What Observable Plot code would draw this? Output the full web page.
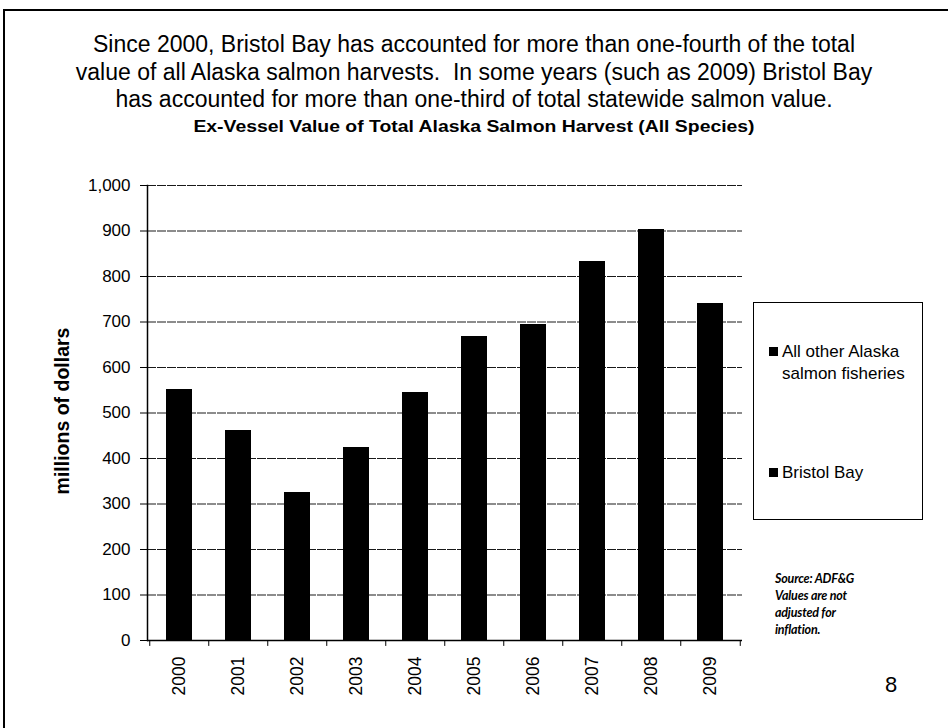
<!DOCTYPE html>
<html><head><meta charset="utf-8">
<script src="https://cdn.jsdelivr.net/npm/d3@7"></script>
<script src="https://cdn.jsdelivr.net/npm/@observablehq/plot@0.6"></script>
<style>
body{margin:0;background:#fff;font-family:"Liberation Sans",Arial,sans-serif;color:#000;}
#page{position:relative;width:948px;height:728px;overflow:hidden;background:#fff;}
#btop{position:absolute;left:3px;top:9px;width:945px;height:2px;background:#000;}
#bleft{position:absolute;left:3px;top:9px;width:2px;height:719px;background:#000;}
#title{position:absolute;left:0;width:948px;top:31px;text-align:center;font-size:23px;line-height:27.5px;}
#subtitle{position:absolute;left:0;width:948px;top:117px;text-align:center;font-size:17px;font-weight:bold;transform:scaleX(1.14);transform-origin:474px 0;}
#ylabel{position:absolute;left:62px;top:411px;transform:translate(-50%,-50%) rotate(-90deg);font-size:19.5px;font-weight:bold;white-space:nowrap;}
#chart{position:absolute;left:0;top:150px;}
#legend{position:absolute;left:753px;top:302px;width:170px;height:218px;border:1px solid #000;box-sizing:border-box;font-size:17px;line-height:22px;}
.li{position:absolute;left:15px;}
.sw{position:absolute;left:0;top:6px;width:9px;height:9px;background:#000;}
.lt{position:absolute;left:13px;top:0;white-space:nowrap;}
#note{position:absolute;left:775px;top:570px;font-family:Lato,"Open Sans",sans-serif;font-style:italic;font-weight:bold;font-size:12.5px;letter-spacing:-0.2px;line-height:17px;}
#pagenum{position:absolute;left:885px;top:672px;font-size:22px;}
</style></head><body>
<div id="page">
<div id="btop"></div><div id="bleft"></div>
<div id="title">Since 2000, Bristol Bay has accounted for more than one-fourth of the total<br>value of all Alaska salmon harvests.&nbsp; In some years (such as 2009) Bristol Bay<br>has accounted for more than one-third of total statewide salmon value.</div>
<div id="subtitle">Ex-Vessel Value of Total Alaska Salmon Harvest (All Species)</div>
<div id="ylabel">millions of dollars</div>
<div id="chart"></div>
<div id="legend">
  <div class="li" style="top:38px"><div class="sw"></div><div class="lt">All other Alaska<br>salmon fisheries</div></div>
  <div class="li" style="top:159px"><div class="sw"></div><div class="lt">Bristol Bay</div></div>
</div>
<div id="note">Source: ADF&amp;G<br>Values are not<br>adjusted for<br>inflation.</div>
<div id="pagenum">8</div>
</div>
<script>
const years = ["2000","2001","2002","2003","2004","2005","2006","2007","2008","2009"];
// Both series are printed in black in the source; only totals are readable.
const bristolBay = [165, 125, 85, 120, 155, 185, 190, 220, 235, 255];
const allOther   = [387, 336, 240, 304, 390, 483, 504, 613, 668, 486];
const seriesNames = ["All other Alaska salmon fisheries", "Bristol Bay"];
const yTicks = [0,100,200,300,400,500,600,700,800,900,1000];

const rows = [];
years.forEach((yr, i) => {
  rows.push({year: yr, series: seriesNames[1], value: bristolBay[i]});
  rows.push({year: yr, series: seriesNames[0], value: allOther[i]});
});

const W = 948, H = 578, ML = 147, MR = 206, MT = 35, MB = 88;
const step = (W - ML - MR) / years.length;

const chart = Plot.plot({
  width: W, height: H,
  marginLeft: ML, marginRight: MR, marginTop: MT, marginBottom: MB,
  style: {fontFamily: "'Liberation Sans', Arial, sans-serif", fontSize: "17px", color: "#000", background: "transparent"},
  x: {domain: years, paddingInner: 0.56, paddingOuter: 0.28, label: null},
  y: {domain: [0, 1000], label: null},
  color: {domain: seriesNames, range: ["#000", "#000"]},
  marks: [
    Plot.gridY(yTicks, {stroke: "#000", strokeOpacity: 0.9, strokeDasharray: "9,1"}),
    Plot.barY(rows, {x: "year", y: "value", fill: "series", shapeRendering: "crispEdges"}),
    Plot.axisY(yTicks, {tickSize: 7, tickPadding: 10, tickFormat: d3.format(","), label: null, fontSize: 17}),
    Plot.axisX({tickRotate: -90, tickSize: 0, tickPadding: 16, label: null, fontSize: 17.5}),
    Plot.ruleX(years, {x: d => d, dx: -step / 2, y1: 0, y2: -13, stroke: "#000"}),
    Plot.ruleX([years[years.length - 1]], {x: d => d, dx: step / 2, y1: 0, y2: -13, stroke: "#000"}),
    Plot.ruleY([0], {stroke: "#000", strokeWidth: 1.5}),
    Plot.frame({anchor: "left", stroke: "#000", strokeWidth: 1.5})
  ]
});
document.getElementById("chart").appendChild(chart);
</script>
</body></html>
